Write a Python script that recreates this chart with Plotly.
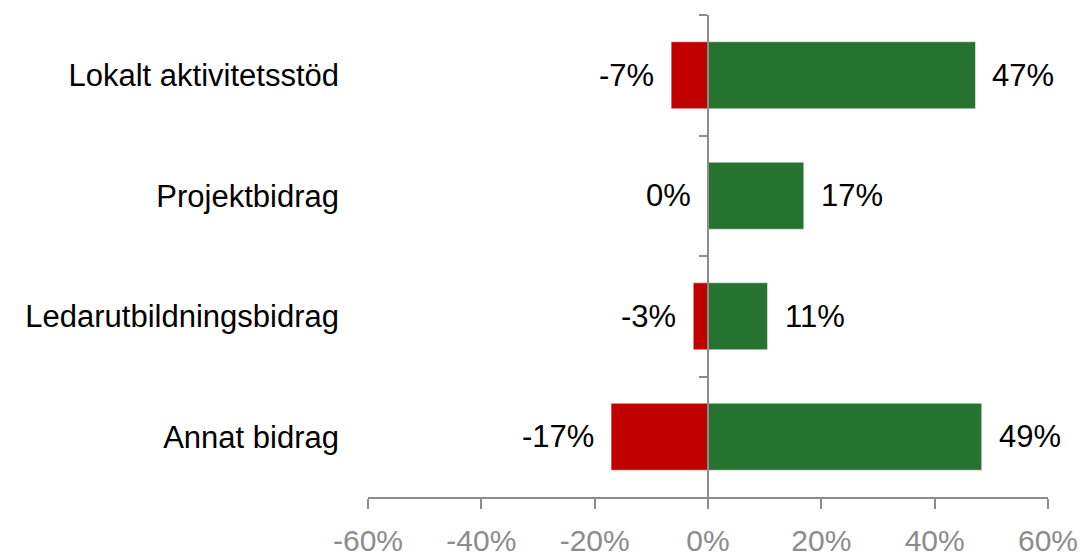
import plotly.graph_objects as go

categories = ["Lokalt aktivitetsstöd", "Projektbidrag", "Ledarutbildningsbidrag", "Annat bidrag"]
negative = [-6.5, 0.0, -2.6, -17.1]
positive = [47.2, 16.9, 10.5, 48.3]
neg_labels = ["-7%", "0%", "-3%", "-17%"]
pos_labels = ["47%", "17%", "11%", "49%"]
x_ticks = [-60, -40, -20, 0, 20, 40, 60]
x_tick_labels = ["-60%", "-40%", "-20%", "0%", "20%", "40%", "60%"]

RED = "#C00000"
GREEN = "#267330"
AXIS = "#8C8C8C"
FONT = "Liberation Sans, Arial, sans-serif"
FS = 31

fig = go.Figure()
fig.add_trace(go.Bar(
    y=categories, x=negative, orientation="h",
    marker=dict(color=RED, line=dict(color="rgba(255,255,255,0.45)", width=1)),
    hoverinfo="skip", showlegend=False,
))
fig.add_trace(go.Bar(
    y=categories, x=positive, orientation="h",
    marker=dict(color=GREEN, line=dict(color="rgba(255,255,255,0.45)", width=1)),
    hoverinfo="skip", showlegend=False,
))
# hidden trace carrying the secondary y axis (axis line at x = 0)
fig.add_trace(go.Scatter(
    y=categories, x=[None] * len(categories), yaxis="y2",
    mode="markers", showlegend=False, hoverinfo="skip",
))

for c, v, t in zip(categories, negative, neg_labels):
    fig.add_annotation(x=v, y=c, text=t, showarrow=False, xanchor="right",
                       xshift=-15, font=dict(family=FONT, size=FS, color="#000000"))
for c, v, t in zip(categories, positive, pos_labels):
    fig.add_annotation(x=v, y=c, text=t, showarrow=False, xanchor="left",
                       xshift=15, font=dict(family=FONT, size=FS, color="#000000"))

fig.update_layout(
    width=1081, height=558,
    margin=dict(l=368, r=33, t=15, b=61),
    paper_bgcolor="white", plot_bgcolor="white",
    barmode="relative", bargap=0.445,
    font=dict(family=FONT),
    xaxis=dict(
        range=[-60, 60], tickvals=x_ticks, ticktext=x_tick_labels,
        showgrid=False, zeroline=False, automargin=False,
        showline=True, linecolor=AXIS, linewidth=2,
        ticks="outside", ticklen=10, tickwidth=2, tickcolor=AXIS,
        tickfont=dict(family=FONT, size=30, color=AXIS),
        ticklabelstandoff=6,
    ),
    yaxis=dict(
        categoryorder="array", categoryarray=categories, automargin=False,
        range=[3.5, -0.5], showgrid=False, zeroline=False, showline=False,
        ticks="", tickfont=dict(family=FONT, size=FS, color="#000000"),
        ticklabelstandoff=28,
    ),
    yaxis2=dict(
        overlaying="y", anchor="free", position=0.5, automargin=False,
        categoryorder="array", categoryarray=categories,
        range=[3.5, -0.5], showgrid=False, zeroline=False,
        showline=True, linecolor=AXIS, linewidth=2,
        ticks="outside", tickson="boundaries", ticklen=8, tickwidth=2, tickcolor=AXIS,
        showticklabels=False,
    ),
)

fig.write_html(
    "out.html",
    config={"displayModeBar": False, "staticPlot": True},
    post_script="document.body.style.margin='0';document.body.style.overflow='hidden';",
)
